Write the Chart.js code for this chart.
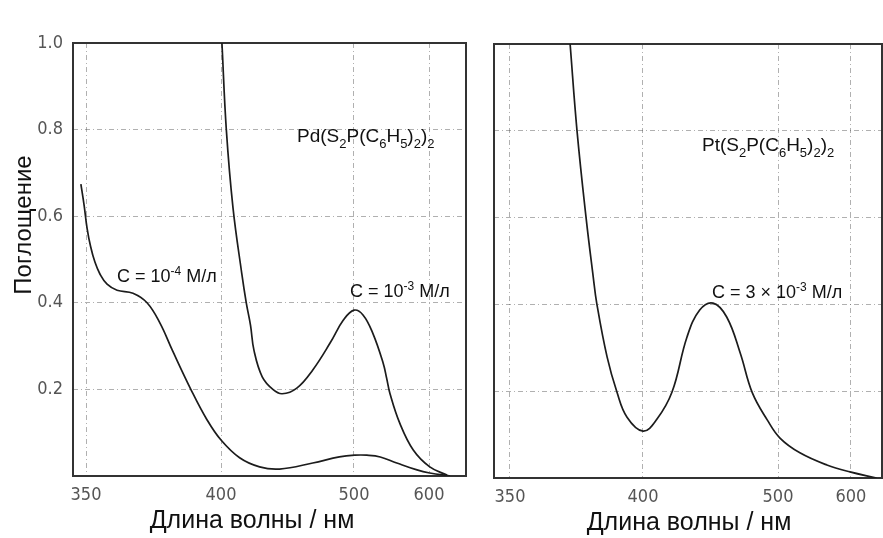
<!DOCTYPE html>
<html>
<head>
<meta charset="utf-8">
<script src="https://cdn.jsdelivr.net/npm/chart.js@4.4.0/dist/chart.umd.min.js"></script>
<style>
  html, body { margin: 0; padding: 0; background: #fff; width: 883px; height: 538px; overflow: hidden; }
  .panel { position: absolute; top: 0; height: 538px; }
  #leftBox { left: 0; width: 476px; }
  #rightBox { left: 480px; width: 403px; }
</style>
</head>
<body>
<div class="panel" id="leftBox"><canvas id="leftChart"></canvas></div>
<div class="panel" id="rightBox"><canvas id="rightChart"></canvas></div>
<script>
// axis ticks
const waveTicks = [350, 400, 500, 600];
const absTicks = [0, 0.2, 0.4, 0.6, 0.8, 1.0];

// Pd(S2P(C6H5)2)2, C = 1e-4 M
const pdLowWave = [348.1, 349.3, 350.4, 351.7, 353.3, 355.2, 357.8, 361.5, 367.4, 372.6, 377.4, 382, 389, 394.8, 400, 414, 429, 444, 469, 489, 501, 517, 535, 557, 584, 601, 628];
const pdLowAbs = [0.674, 0.625, 0.572, 0.53, 0.494, 0.466, 0.443, 0.429, 0.422, 0.40, 0.353, 0.29, 0.198, 0.13, 0.083, 0.042, 0.021, 0.016, 0.03, 0.044, 0.048, 0.048, 0.044, 0.03, 0.014, 0.007, 0.0];

// Pd(S2P(C6H5)2)2, C = 1e-3 M
const pdHighWave = [400.7, 404, 409, 415.6, 419, 422.2, 424.8, 431, 439, 446, 457, 469, 482, 492, 500, 512, 525, 539, 543.5, 548, 561, 579, 601, 624];
const pdHighAbs = [1.0, 0.8, 0.62, 0.468, 0.4, 0.348, 0.29, 0.229, 0.2, 0.19, 0.203, 0.245, 0.307, 0.36, 0.383, 0.372, 0.33, 0.26, 0.226, 0.19, 0.122, 0.06, 0.021, 0.002];

// Pt(S2P(C6H5)2)2, C = 3e-3 M
const ptWave = [372.6, 375.2, 378.6, 381.3, 382.6, 386.5, 390.2, 394, 400, 410, 421.5, 432.6, 442, 451.9, 462, 472, 481, 492, 502.7, 530, 567, 598.6, 635];
const ptAbs = [1.0, 0.8, 0.6, 0.463, 0.403, 0.279, 0.198, 0.14, 0.108, 0.134, 0.198, 0.325, 0.387, 0.403, 0.371, 0.288, 0.196, 0.134, 0.092, 0.058, 0.03, 0.014, 0.0];

const yTitle = 'Поглощение';
const xTitle = 'Длина волны / нм';

// the wavelength axis of the original is not linear: piecewise mapping through the ticks
function waveFraction(waves, fracs, v) {
  let i = 0;
  while (i < waves.length - 2 && v > waves[i + 1]) i++;
  const t = (v - waves[i]) / (waves[i + 1] - waves[i]);
  return fracs[i] + t * (fracs[i + 1] - fracs[i]);
}

class WaveScale extends Chart.LinearScale {
  determineDataLimits() { this.min = 0; this.max = 1; }
  buildTicks() { return waveTicks.map(v => ({ value: v })); }
  getPixelForValue(value) {
    return this.getPixelForDecimal(waveFraction(waveTicks, this.options.tickFracs, value));
  }
}
WaveScale.id = 'wave';
WaveScale.defaults = {};
Chart.register(WaveScale);

const toPoints = (xs, ys) => xs.map((x, i) => ({ x, y: ys[i] }));

function drawRich(ctx, parts, x, y, size) {
  let cx = x;
  parts.forEach(([txt, shift]) => {
    const s = shift ? Math.round(size * 0.68) : size;
    ctx.font = s + 'px "Liberation Sans", Arial, sans-serif';
    const dy = shift === 1 ? size * 0.32 : shift === -1 ? -size * 0.4 : 0;
    ctx.fillText(txt, cx, y + dy);
    cx += ctx.measureText(txt).width;
  });
}

function makeDecor(labels, offsetX, xTitleX, xTitleY, withYTitle) {
  return {
    id: 'decor',
    beforeDatasetsDraw(chart) {
      const { ctx, chartArea: a } = chart;
      ctx.save();
      ctx.strokeStyle = '#333';
      ctx.lineWidth = 2;
      ctx.strokeRect(a.left, a.top, a.right - a.left, a.bottom - a.top);
      ctx.restore();
    },
    afterDraw(chart) {
      const ctx = chart.ctx;
      ctx.save();
      ctx.fillStyle = '#111';
      ctx.textBaseline = 'alphabetic';
      ctx.textAlign = 'left';
      labels.forEach(l => drawRich(ctx, l.parts, l.x - offsetX, l.y, l.size));
      ctx.font = '25px "Liberation Sans", Arial, sans-serif';
      ctx.textAlign = 'center';
      ctx.fillText(xTitle, xTitleX - offsetX, xTitleY);
      if (withYTitle) {
        ctx.translate(24, 225);
        ctx.rotate(-Math.PI / 2);
        ctx.font = '24px "Liberation Sans", Arial, sans-serif';
        ctx.textBaseline = 'middle';
        ctx.fillText(yTitle, 0, 0);
      }
      ctx.restore();
    }
  };
}

const tickFont = { family: '"Liberation Sans Narrow", "DejaVu Sans Condensed", "Roboto Condensed", sans-serif', size: 18 };
const gridStyle = { color: 'rgba(80,80,80,0.45)', lineWidth: 1, drawTicks: false };
const borderStyle = { display: false, dash: [5, 3, 1, 3] };

function makeOptions(opt) {
  return {
    responsive: true,
    maintainAspectRatio: false,
    animation: false,
    events: [],
    layout: { padding: { top: opt.top, right: opt.right, left: 0, bottom: 0 } },
    plugins: { legend: { display: false }, tooltip: { enabled: false } },
    elements: { point: { radius: 0 }, line: { borderColor: '#1c1c1c', borderWidth: 1.7, tension: 0.4 } },
    scales: {
      x: {
        type: 'wave',
        tickFracs: opt.fracs,
        grid: gridStyle,
        border: borderStyle,
        ticks: { font: tickFont, color: '#555', padding: 9, maxRotation: 0, autoSkip: false, callback: v => String(v) },
        afterFit: s => { s.height = opt.xHeight; }
      },
      y: {
        type: 'linear',
        min: 0,
        max: 1,
        afterBuildTicks: s => { s.ticks = absTicks.map(v => ({ value: v })); },
        grid: gridStyle,
        border: borderStyle,
        ticks: { display: opt.yLabels, font: tickFont, color: '#555', padding: 10, callback: v => (v === 0 ? '' : v.toFixed(1)) },
        afterFit: s => { s.width = opt.yWidth; }
      }
    }
  };
}

new Chart(document.getElementById('leftChart'), {
  type: 'line',
  data: {
    datasets: [
      { label: 'C = 1e-4', data: toPoints(pdLowWave, pdLowAbs) },
      { label: 'C = 1e-3', data: toPoints(pdHighWave, pdHighAbs) }
    ]
  },
  options: makeOptions({ top: 43, right: 10, xHeight: 62, yWidth: 73, yLabels: true, fracs: [0.0331, 0.3766, 0.715, 0.9059] }),
  plugins: [makeDecor([
    { x: 297, y: 142, size: 19, parts: [['Pd(S', 0], ['2', 1], ['P(C', 0], ['6', 1], ['H', 0], ['5', 1], [')', 0], ['2', 1], [')', 0], ['2', 1]] },
    { x: 117, y: 282, size: 18, parts: [['C = 10', 0], ['-4', -1], [' М/л', 0]] },
    { x: 350, y: 297, size: 18, parts: [['C = 10', 0], ['-3', -1], [' М/л', 0]] }
  ], 0, 252, 528, true)]
});

new Chart(document.getElementById('rightChart'), {
  type: 'line',
  data: {
    datasets: [
      { label: 'C = 3e-3', data: toPoints(ptWave, ptAbs) }
    ]
  },
  options: makeOptions({ top: 44, right: 1, xHeight: 60, yWidth: 14, yLabels: false, fracs: [0.0412, 0.384, 0.732, 0.920] }),
  plugins: [makeDecor([
    { x: 702, y: 151, size: 19, parts: [['Pt(S', 0], ['2', 1], ['P(C', 0], ['6', 1], ['H', 0], ['5', 1], [')', 0], ['2', 1], [')', 0], ['2', 1]] },
    { x: 712, y: 298, size: 18, parts: [['C = 3 × 10', 0], ['-3', -1], [' М/л', 0]] }
  ], 480, 689, 530, false)]
});
</script>
</body>
</html>
